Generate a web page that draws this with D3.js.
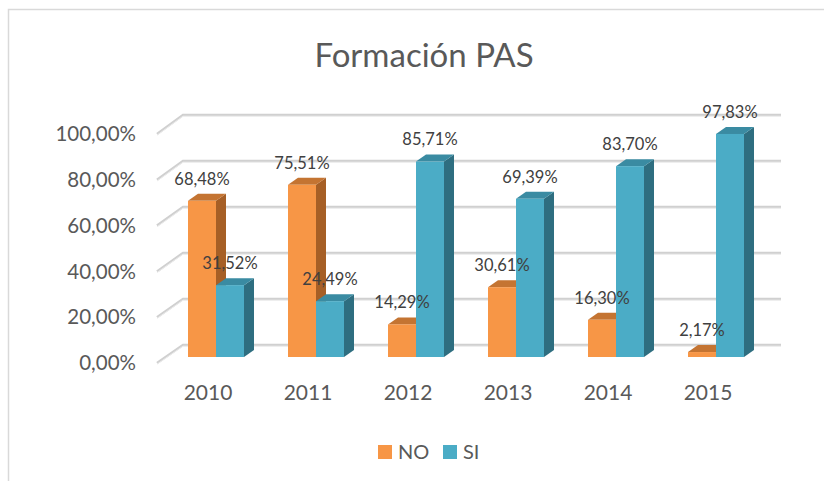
<!DOCTYPE html>
<html>
<head>
<meta charset="utf-8">
<script src="https://cdn.jsdelivr.net/npm/d3@7"></script>
<style>
  body { margin: 0; background: #fff; }
  svg { display: block; }
</style>
</head>
<body>
<div class="chart"></div>
<script>

var years = ["2010", "2011", "2012", "2013", "2014", "2015"];
var noValues = [68.48, 75.51, 14.29, 30.61, 16.30, 2.17];
var siValues = [31.52, 24.49, 85.71, 69.39, 83.70, 97.83];
var yTicks = [0, 20, 40, 60, 80, 100];
var seriesNames = ["NO", "SI"];

var width = 824, height = 481;
var font = "Lato, 'Open Sans', sans-serif";
var colors = {
  NO: { front: "#f79646", side: "#a65f26", top: "#c47432" },
  SI: { front: "#4bacc6", side: "#2e6e80", top: "#3a8ba2" }
};

var svg = d3.select(".chart")
  .append("svg")
    .attr("width", width)
    .attr("height", height);

svg.append("rect")
  .attr("width", width)
  .attr("height", height)
  .attr("fill", "#fff");

// chart frame
svg.append("rect")
  .attr("x", 8.5)
  .attr("y", 9.5)
  .attr("width", width)
  .attr("height", height)
  .attr("fill", "none")
  .style("stroke", "#d9d9d9")
  .style("stroke-width", 1.5);

// title
svg.append("text")
  .attr("x", 424)
  .attr("y", 67)
  .attr("text-anchor", "middle")
  .style("font-family", font)
  .style("font-size", "33px")
  .style("fill", "#595959")
  .text("Formación PAS");

// scales
var x = d3.scaleBand()
  .domain(years)
  .range([166, 766])
  .paddingInner(0.44)
  .paddingOuter(0.22);

var xs = d3.scaleBand()
  .domain(seriesNames)
  .range([0, x.bandwidth()]);

var yFront = d3.scaleLinear().domain([0, 100]).range([363, 134]);
var yBack = d3.scaleLinear().domain([0, 100]).range([345, 115]);
var yBar = d3.scaleLinear().domain([0, 100]).range([357, 129]);
var frontX = 157, backX = 183, backRight = 781;

// gridlines (back wall + side diagonal)
yTicks.forEach(function(t) {
  var pts = [[frontX, yFront(t)], [backX, yBack(t)], [backRight, yBack(t)]];
  svg.append("path")
    .attr("d", d3.line()(pts))
    .style("fill", "none")
    .style("stroke", "#d0d0d0")
    .style("stroke-width", 2.5);
  svg.append("path")
    .attr("d", d3.line()(pts.map(function(p) { return [p[0], p[1] + 1.2]; })))
    .style("fill", "none")
    .style("stroke", "#ececec")
    .style("stroke-width", 1);
});

// y tick labels
svg.selectAll(".ytick")
  .data(yTicks)
  .enter().append("text")
    .attr("x", 136)
    .attr("y", function(d) { return yFront(d); })
    .attr("dy", "0.35em")
    .attr("text-anchor", "end")
    .style("font-family", font)
    .style("font-size", "20.5px")
    .style("fill", "#595959")
    .text(function(d) { return d.toFixed(2).replace(".", ",") + "%"; });

// bars
var depthX = 10, depthY = -7;
var data = [];
years.forEach(function(yr, i) {
  data.push({ year: yr, series: "NO", value: noValues[i] });
  data.push({ year: yr, series: "SI", value: siValues[i] });
});

data.forEach(function(d) {
  var x0 = x(d.year) + xs(d.series);
  var x1 = x0 + xs.bandwidth();
  var y0 = yBar(0);
  var y1 = yBar(d.value);
  var c = colors[d.series];
  var g = svg.append("g");
  // side
  g.append("path")
    .attr("d", d3.line()([[x1, y1], [x1 + depthX, y1 + depthY], [x1 + depthX, y0 + depthY], [x1, y0]]) + "Z")
    .style("fill", c.side);
  // top
  g.append("path")
    .attr("d", d3.line()([[x0, y1], [x0 + depthX, y1 + depthY], [x1 + depthX, y1 + depthY], [x1, y1]]) + "Z")
    .style("fill", c.top);
  // front
  g.append("rect")
    .attr("x", x0)
    .attr("y", y1)
    .attr("width", x1 - x0)
    .attr("height", y0 - y1)
    .style("fill", c.front);
});

// data labels
svg.selectAll(".dlabel")
  .data(data)
  .enter().append("text")
    .attr("x", function(d) { return x(d.year) + xs(d.series) + xs.bandwidth() / 2; })
    .attr("y", function(d) { return yBar(d.value) - 22; })
    .attr("dy", "0.35em")
    .attr("text-anchor", "middle")
    .style("font-family", font)
    .style("font-size", "16.5px")
    .style("fill", "#404040")
    .text(function(d) { return d.value.toFixed(2).replace(".", ",") + "%"; });

// x labels
svg.selectAll(".xtick")
  .data(years)
  .enter().append("text")
    .attr("x", function(d) { return x(d) + x.bandwidth() / 2 - 8; })
    .attr("y", 393)
    .attr("dy", "0.35em")
    .attr("text-anchor", "middle")
    .style("font-family", font)
    .style("font-size", "21px")
    .style("fill", "#595959")
    .text(function(d) { return d; });

// legend
var legendX = [378, 443];
seriesNames.forEach(function(s, i) {
  svg.append("rect")
    .attr("x", legendX[i])
    .attr("y", 445)
    .attr("width", 14)
    .attr("height", 14)
    .style("fill", colors[s].front);
  svg.append("text")
    .attr("x", legendX[i] + 20)
    .attr("y", 452)
    .attr("dy", "0.35em")
    .style("font-family", font)
    .style("font-size", "20px")
    .style("fill", "#595959")
    .text(s);
});

</script>
</body>
</html>
